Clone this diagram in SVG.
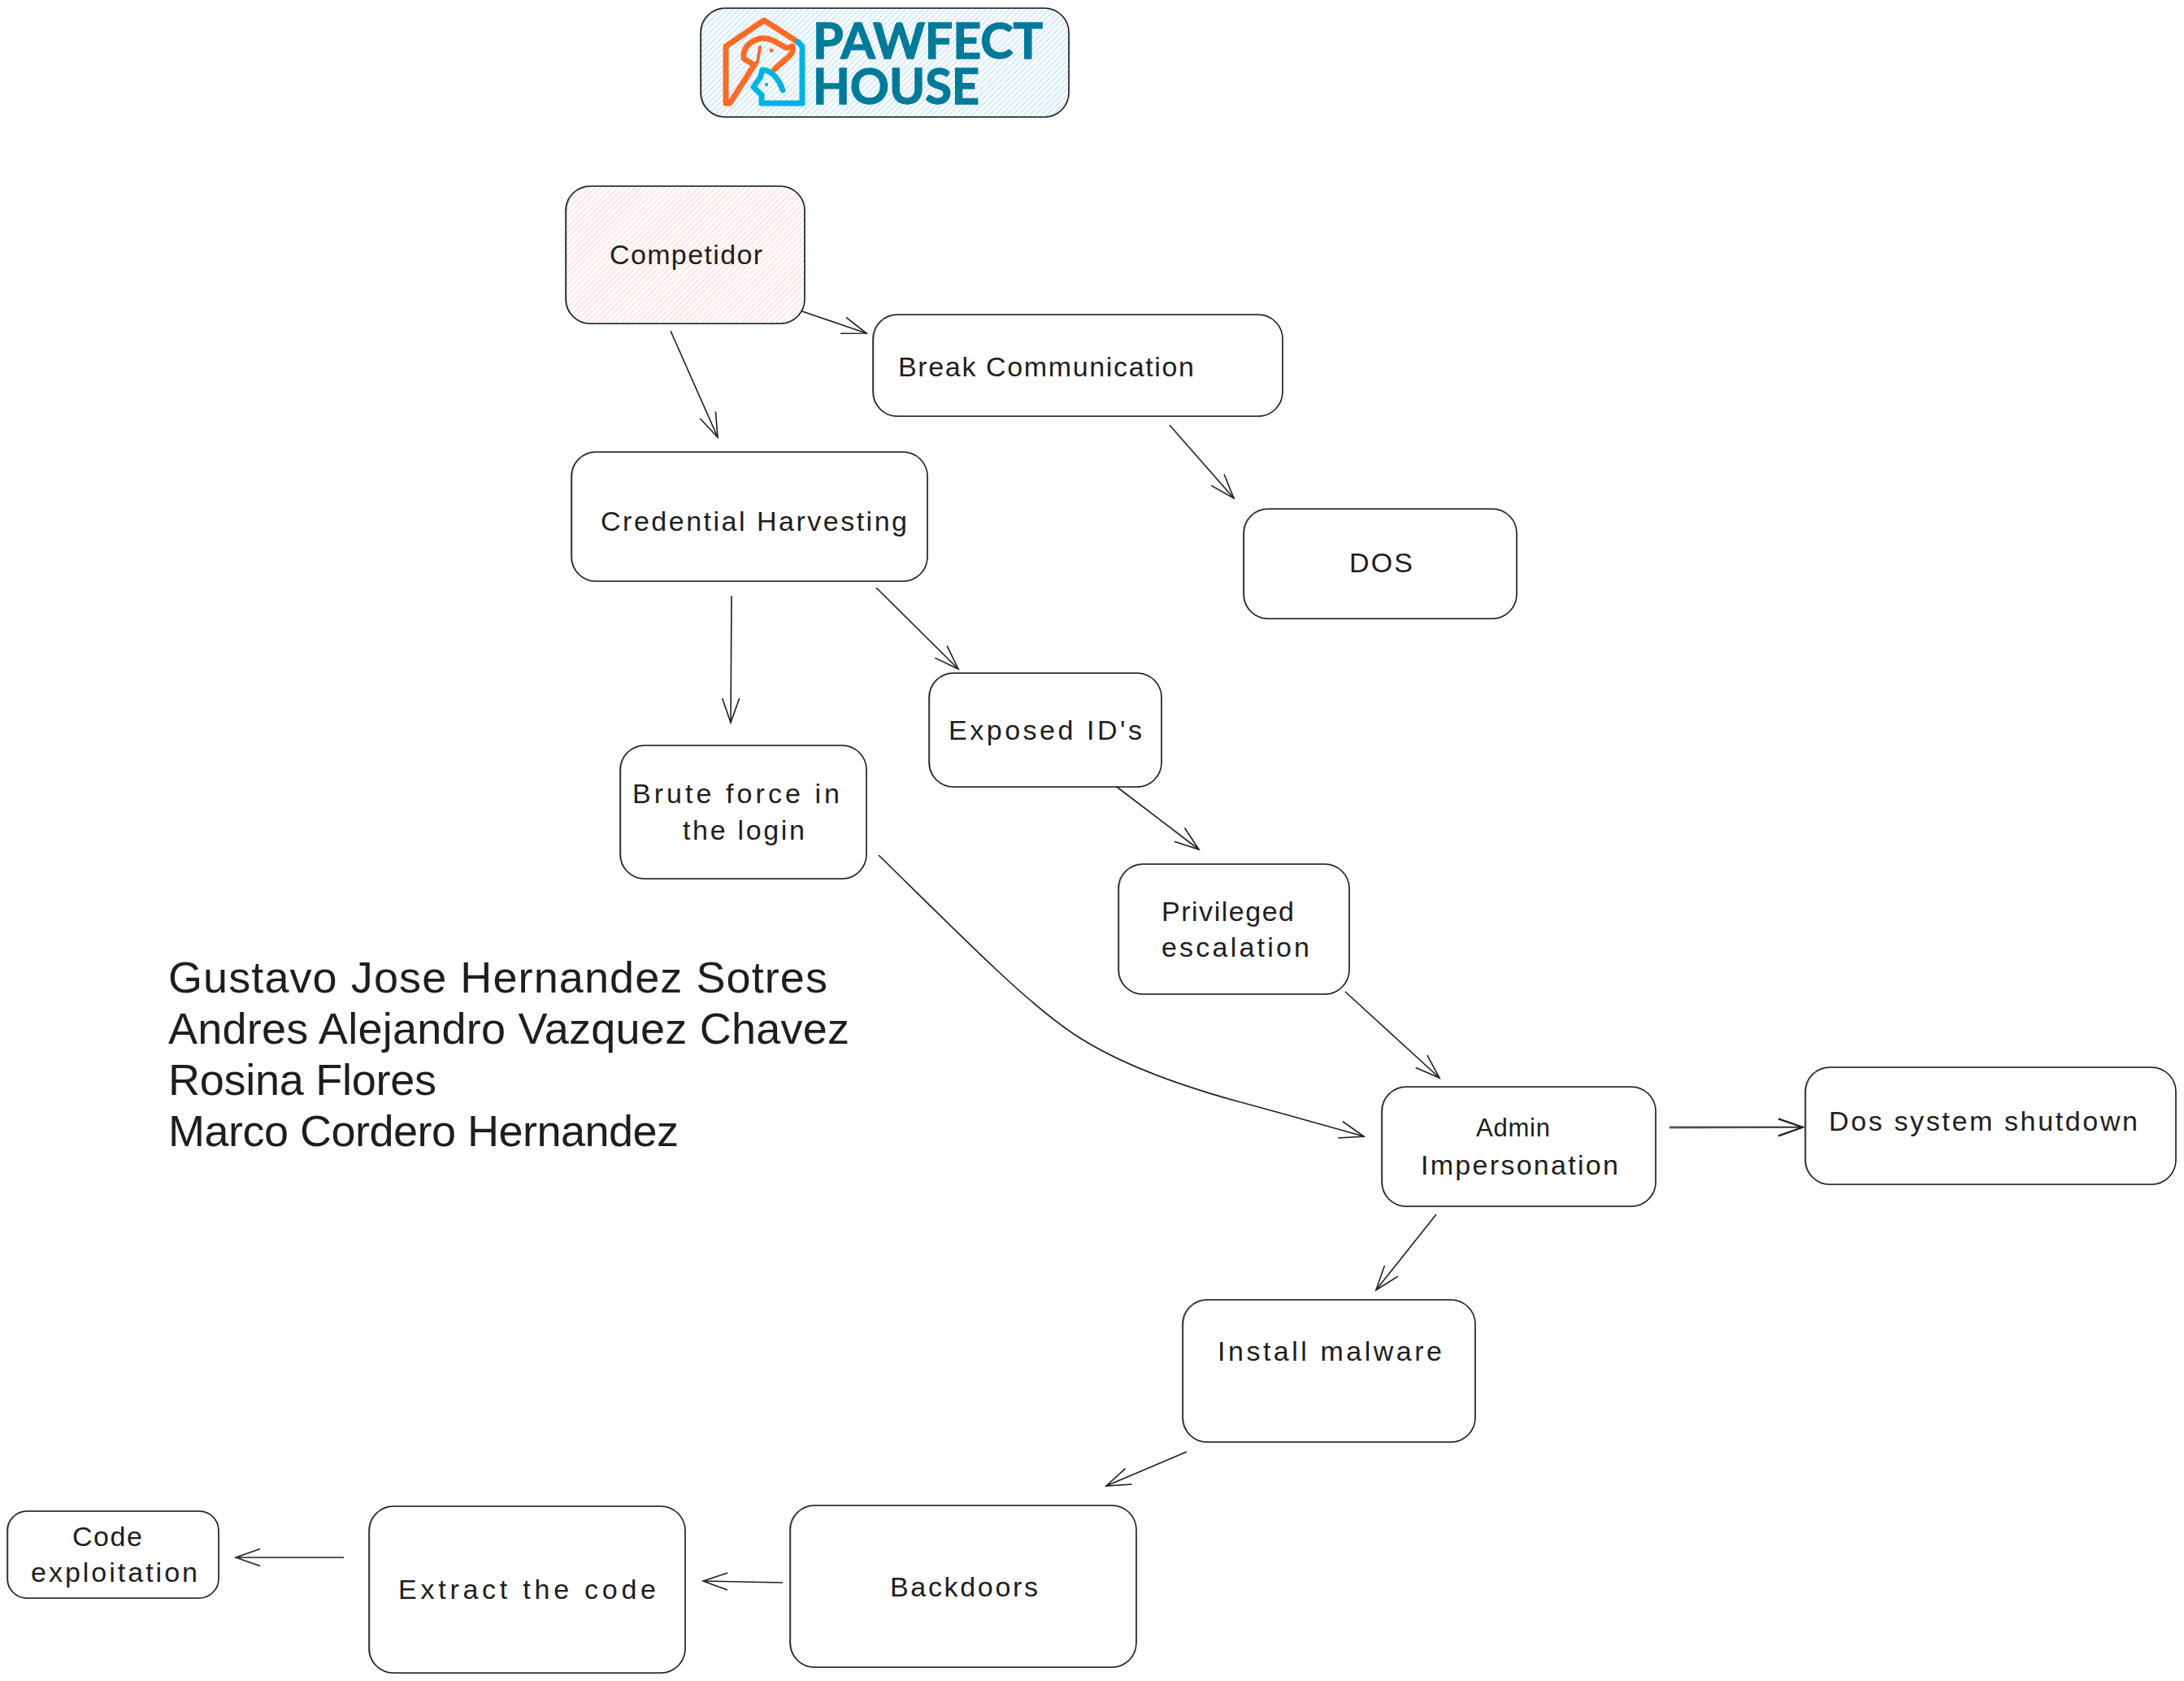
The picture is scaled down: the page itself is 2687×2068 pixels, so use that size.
<svg xmlns="http://www.w3.org/2000/svg" width="2687" height="2068" viewBox="0 0 2687 2068">
<style>
.box{fill:none;stroke:#1e1e1e;stroke-width:1.6}
.b2{fill:none;stroke:#1e1e1e;stroke-width:1;opacity:.4}
.t{font-family:"Liberation Sans",Arial,sans-serif;font-size:34px;fill:#1e1e1e}
.n{font-family:"Liberation Sans",Arial,sans-serif;font-size:54px;fill:#1e1e1e}
.l{font-family:Lato,"Open Sans",sans-serif;font-weight:700;font-size:62px;fill:#007a99;stroke:#007a99;stroke-width:1.4}
.c path{fill:none;stroke:#1e1e1e;stroke-width:1.6;marker-end:url(#a)}
.o{fill:none;stroke:#ff6a26;stroke-width:7;stroke-linecap:round;stroke-linejoin:round}
.s{fill:none;stroke:#00b2e0;stroke-width:7;stroke-linecap:round;stroke-linejoin:round}
</style>
<defs>
<marker id="a" markerUnits="userSpaceOnUse" markerWidth="40" markerHeight="30" refX="36" refY="15" orient="auto" overflow="visible"><path d="M6,4.5 L36,15 L6,25.5" fill="none" stroke="#1e1e1e" stroke-width="1.6"/></marker>
<pattern id="hr" width="5" height="5" patternUnits="userSpaceOnUse" patternTransform="rotate(-45)"><rect width="5" height="5" fill="#fff"/><rect width="5" height="1.7" fill="#ffc9c9" opacity=".6"/></pattern>
<pattern id="hb" width="5" height="5" patternUnits="userSpaceOnUse" patternTransform="rotate(-45)"><rect width="5" height="5" fill="#fff"/><rect width="5" height="1.7" fill="#a5d8ff" opacity=".6"/></pattern>
</defs>
<rect width="2687" height="2068" fill="#fff"/>

<g id="logo">
<rect x="862" y="10" width="453" height="134" rx="30" fill="url(#hb)"/>
<rect class="box" x="862" y="10" width="453" height="134" rx="30"/>
<rect class="b2" x="863" y="10.500" width="452" height="133" rx="30"/>
<path class="o" d="M982,52 L940,25 L893,57 V127 H898 L928,80"/>
<path class="s" d="M982,52 L987,57 V127 H937 V117"/>
<path class="o" d="M928,80 L915,72 C913,60 922,50 937,47 C950,46 960,56 968,59 L975,57 C977,63 972,69 968,72 L953,85"/>
<path class="o" style="stroke-width:4" d="M935,58 L932,76 L928,80"/>
<circle cx="949" cy="62" r="2.500" fill="#ff6a50"/>
<path class="s" d="M937,117 L927,107 L935,96 L938,86 C948,86 958,96 963,111"/>
<circle cx="943" cy="104" r="2.200" fill="#00b2e0"/>
<text class="l"><tspan x="1000" y="72" textLength="283" lengthAdjust="spacingAndGlyphs">PAWFECT</tspan><tspan x="1000" y="128" textLength="205" lengthAdjust="spacingAndGlyphs">HOUSE</tspan></text>
</g>

<g id="competidor">
<rect x="696" y="229" width="294" height="169" rx="30" fill="url(#hr)"/>
<rect class="box" x="696" y="229" width="294" height="169" rx="30"/>
<rect class="b2" x="697" y="229.500" width="293" height="169" rx="30"/>
<text class="t" x="750" y="325" textLength="188">Competidor</text>
</g>
<g id="break">
<rect class="box" x="1074" y="387" width="504" height="125" rx="30"/>
<rect class="b2" x="1075" y="387.500" width="503" height="125" rx="30"/>
<text class="t" x="1105" y="463" textLength="364">Break Communication</text>
</g>
<g id="credential">
<rect class="box" x="703" y="556" width="438" height="159" rx="30"/>
<rect class="b2" x="704" y="556.500" width="437" height="159" rx="30"/>
<text class="t" x="739" y="653" textLength="377">Credential Harvesting</text>
</g>
<g id="dos">
<rect class="box" x="1530" y="626" width="336" height="135" rx="30"/>
<rect class="b2" x="1531" y="626.500" width="335" height="135" rx="30"/>
<text class="t" x="1660" y="704" textLength="78">DOS</text>
</g>
<g id="exposed">
<rect class="box" x="1143" y="828" width="286" height="140" rx="30"/>
<rect class="b2" x="1144" y="828.500" width="285" height="140" rx="30"/>
<text class="t" x="1167" y="910" textLength="238">Exposed ID's</text>
</g>
<g id="brute">
<rect class="box" x="763" y="917" width="303" height="164" rx="30"/>
<rect class="b2" x="764" y="917.500" width="302" height="164" rx="30"/>
<text class="t" x="778" y="988" textLength="255">Brute force in</text>
<text class="t" x="840" y="1033" textLength="150">the login</text>
</g>
<g id="privileged">
<rect class="box" x="1376" y="1063" width="284" height="160" rx="30"/>
<rect class="b2" x="1377" y="1063.500" width="283" height="160" rx="30"/>
<text class="t" x="1429" y="1133" textLength="163">Privileged</text>
<text class="t" x="1429" y="1177" textLength="182">escalation</text>
</g>
<g id="admin">
<rect class="box" x="1700" y="1337" width="337" height="147" rx="30"/>
<rect class="b2" x="1701" y="1337.500" width="336" height="147" rx="30"/>
<text class="t" style="font-size:31px" x="1816" y="1398" textLength="91">Admin</text>
<text class="t" x="1748" y="1445" textLength="243">Impersonation</text>
</g>
<g id="dos-shutdown">
<rect class="box" x="2221" y="1313" width="456" height="144" rx="30"/>
<rect class="b2" x="2222" y="1313.500" width="455" height="144" rx="30"/>
<text class="t" x="2250" y="1391" textLength="380">Dos system shutdown</text>
</g>
<g id="install">
<rect class="box" x="1455" y="1599" width="360" height="175" rx="30"/>
<rect class="b2" x="1456" y="1599.500" width="359" height="175" rx="30"/>
<text class="t" x="1498" y="1674" textLength="276">Install malware</text>
</g>
<g id="backdoors">
<rect class="box" x="972" y="1852" width="426" height="199" rx="30"/>
<rect class="b2" x="973" y="1852.500" width="425" height="199" rx="30"/>
<text class="t" x="1095" y="1964" textLength="182">Backdoors</text>
</g>
<g id="extract">
<rect class="box" x="454" y="1853" width="389" height="205" rx="30"/>
<rect class="b2" x="455" y="1853.500" width="388" height="205" rx="30"/>
<text class="t" x="490" y="1967" textLength="317">Extract the code</text>
</g>
<g id="code">
<rect class="box" x="9" y="1859" width="260" height="107" rx="24"/>
<rect class="b2" x="10" y="1859.500" width="259" height="107" rx="24"/>
<text class="t" x="89" y="1902" textLength="86">Code</text>
<text class="t" x="38" y="1946" textLength="205">exploitation</text>
</g>

<g id="names">
<text class="n" x="207" y="1221" textLength="811">Gustavo Jose Hernandez Sotres</text>
<text class="n" x="207" y="1284" textLength="838">Andres Alejandro Vazquez Chavez</text>
<text class="n" x="207" y="1347" textLength="330">Rosina Flores</text>
<text class="n" x="207" y="1410" textLength="628">Marco Cordero Hernandez</text>
</g>

<g id="connectors" class="c">
<path d="M987,383 L1066,410"/>
<path d="M825,407 L883,538"/>
<path d="M1439,523 L1518,613"/>
<path d="M900,733 L899,889"/>
<path d="M1078,723 L1179,823"/>
<path d="M1374,968 L1475,1045"/>
<path d="M1655,1220 L1771,1326"/>
<path d="M1081,1052 C1130,1100 1180,1150 1228,1195 C1258,1223 1288,1250 1321,1272 C1375,1308 1450,1335 1523,1355 C1575,1369 1625,1383 1678,1398"/>
<path d="M2054,1386.500 L2218,1386.500"/>
<path d="M2054,1388 L2218,1387" stroke-opacity=".5"/>
<path d="M1767,1494 L1693,1587"/>
<path d="M1460,1786 L1361,1828"/>
<path d="M963,1947 L865,1945"/>
<path d="M423,1916 L290,1916"/>
</g>
</svg>
